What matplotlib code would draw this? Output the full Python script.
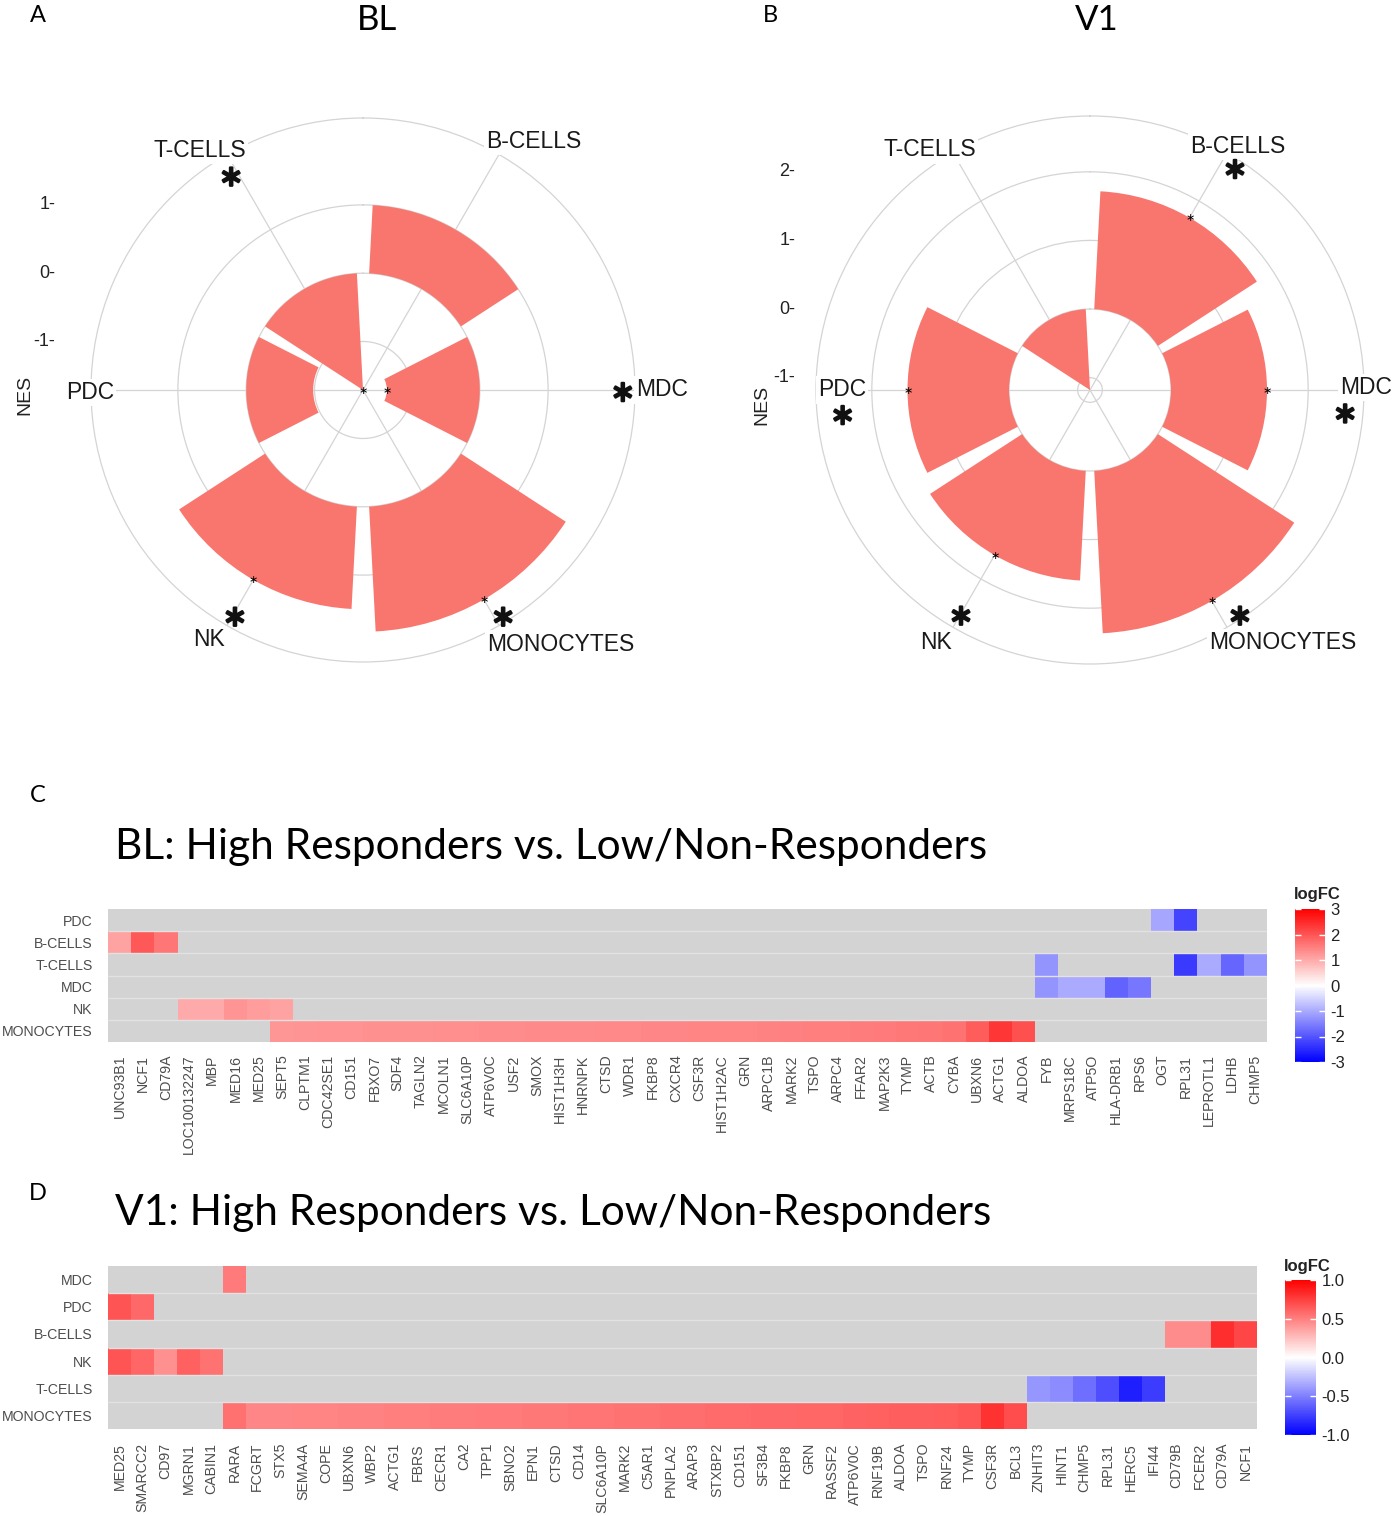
import numpy as np
import matplotlib
matplotlib.use("Agg")
import matplotlib.pyplot as plt
from matplotlib import patheffects
from matplotlib.colors import LinearSegmentedColormap

plt.rcParams['font.family'] = ['Liberation Sans', 'DejaVu Sans']

W, H = 1393, 1516

# ---------------- data: NES per cell type (panels A, B) ----------------
cells = ["B-CELLS", "MDC", "MONOCYTES", "NK", "PDC", "T-CELLS"]
nes_bl = [1.00, -1.36, 1.83, 1.50, -0.98, -1.71]
nes_v1 = [1.72, 1.40, 2.37, 1.60, 1.48, -1.18]
sig_bl = [False, True, True, True, False, True]
sig_v1 = [True, True, True, True, True, False]

# ---------------- data: logFC heatmap BL (panel C) ----------------
bl_genes = ["UNC93B1", "NCF1", "CD79A", "LOC100132247", "MBP", "MED16", "MED25",
            "SEPT5", "CLPTM1", "CDC42SE1", "CD151", "FBXO7", "SDF4", "TAGLN2",
            "MCOLN1", "SLC6A10P", "ATP6V0C", "USF2", "SMOX", "HIST1H3H", "HNRNPK",
            "CTSD", "WDR1", "FKBP8", "CXCR4", "CSF3R", "HIST1H2AC", "GRN", "ARPC1B",
            "MARK2", "TSPO", "ARPC4", "FFAR2", "MAP2K3", "TYMP", "ACTB", "CYBA",
            "UBXN6", "ACTG1", "ALDOA", "FYB", "MRPS18C", "ATP5O", "HLA-DRB1", "RPS6",
            "OGT", "RPL31", "LEPROTL1", "LDHB", "CHMP5"]
bl_rows = ["PDC", "B-CELLS", "T-CELLS", "MDC", "NK", "MONOCYTES"]
bl_pdc = {"OGT": -1.05, "RPL31": -2.2}
bl_bcells = {"UNC93B1": 1.1, "NCF1": 1.95, "CD79A": 1.6}
bl_tcells = {"FYB": -1.25, "RPL31": -2.3, "LEPROTL1": -1.0, "LDHB": -1.8, "CHMP5": -1.25}
bl_mdc = {"FYB": -1.25, "MRPS18C": -1.0, "ATP5O": -1.0, "HLA-DRB1": -1.85, "RPS6": -1.6}
bl_nk = {"LOC100132247": 1.0, "MBP": 1.0, "MED16": 1.25, "MED25": 1.15, "SEPT5": 1.1}
bl_mono = {"SEPT5": 1.22, "CLPTM1": 1.25, "CDC42SE1": 1.27, "CD151": 1.28, "FBXO7": 1.29,
           "SDF4": 1.3, "TAGLN2": 1.31, "MCOLN1": 1.32, "SLC6A10P": 1.33, "ATP6V0C": 1.34,
           "USF2": 1.35, "SMOX": 1.36, "HIST1H3H": 1.37, "HNRNPK": 1.38, "CTSD": 1.39,
           "WDR1": 1.4, "FKBP8": 1.41, "CXCR4": 1.42, "CSF3R": 1.43, "HIST1H2AC": 1.44,
           "GRN": 1.45, "ARPC1B": 1.47, "MARK2": 1.49, "TSPO": 1.5, "ARPC4": 1.52,
           "FFAR2": 1.54, "MAP2K3": 1.56, "TYMP": 1.58, "ACTB": 1.61, "CYBA": 1.66,
           "UBXN6": 1.92, "ACTG1": 2.35, "ALDOA": 2.05}
bl_values = [bl_pdc, bl_bcells, bl_tcells, bl_mdc, bl_nk, bl_mono]

# ---------------- data: logFC heatmap V1 (panel D) ----------------
v1_genes = ["MED25", "SMARCC2", "CD97", "MGRN1", "CABIN1", "RARA", "FCGRT", "STX5",
            "SEMA4A", "COPE", "UBXN6", "WBP2", "ACTG1", "FBRS", "CECR1", "CA2", "TPP1",
            "SBNO2", "EPN1", "CTSD", "CD14", "SLC6A10P", "MARK2", "C5AR1", "PNPLA2",
            "ARAP3", "STXBP2", "CD151", "SF3B4", "FKBP8", "GRN", "RASSF2", "ATP6V0C",
            "RNF19B", "ALDOA", "TSPO", "RNF24", "TYMP", "CSF3R", "BCL3", "ZNHIT3",
            "HINT1", "CHMP5", "RPL31", "HERC5", "IFI44", "CD79B", "FCER2", "CD79A", "NCF1"]
v1_rows = ["MDC", "PDC", "B-CELLS", "NK", "T-CELLS", "MONOCYTES"]
v1_mdc = {"RARA": 0.52}
v1_pdc = {"MED25": 0.67, "SMARCC2": 0.59}
v1_bcells = {"CD79B": 0.45, "FCER2": 0.45, "CD79A": 0.82, "NCF1": 0.72}
v1_nk = {"MED25": 0.67, "SMARCC2": 0.6, "CD97": 0.43, "MGRN1": 0.62, "CABIN1": 0.55}
v1_tcells = {"ZNHIT3": -0.41, "HINT1": -0.45, "CHMP5": -0.57, "RPL31": -0.69,
             "HERC5": -0.88, "IFI44": -0.76}
v1_mono = {"RARA": 0.56, "FCGRT": 0.47, "STX5": 0.47, "SEMA4A": 0.48, "COPE": 0.48,
           "UBXN6": 0.49, "WBP2": 0.49, "ACTG1": 0.5, "FBRS": 0.5, "CECR1": 0.51,
           "CA2": 0.51, "TPP1": 0.52, "SBNO2": 0.52, "EPN1": 0.53, "CTSD": 0.53,
           "CD14": 0.54, "SLC6A10P": 0.54, "MARK2": 0.55, "C5AR1": 0.55, "PNPLA2": 0.57,
           "ARAP3": 0.57, "STXBP2": 0.58, "CD151": 0.58, "SF3B4": 0.59, "FKBP8": 0.59,
           "GRN": 0.6, "RASSF2": 0.6, "ATP6V0C": 0.61, "RNF19B": 0.62, "ALDOA": 0.63,
           "TSPO": 0.63, "RNF24": 0.64, "TYMP": 0.66, "CSF3R": 0.8, "BCL3": 0.7}
v1_values = [v1_mdc, v1_pdc, v1_bcells, v1_nk, v1_tcells, v1_mono]


fig = plt.figure(figsize=(W / 100, H / 100), dpi=100)


def px_box(x0, y0, x1, y1):
    return [x0 / W, 1 - y1 / H, (x1 - x0) / W, (y1 - y0) / H]


def fig_text(x, y, s, **kw):
    fig.text(x / W, 1 - y / H, s, **kw)


STAR = r'$\ast$'
heavy = [patheffects.withStroke(linewidth=1.6, foreground='#111111')]


def polar_panel(rect, nes, sig, rticks, lab_xy, star_xy, nes_xy, tick_x):
    ax = fig.add_axes(rect, projection='polar')
    ax.set_theta_zero_location('N')
    ax.set_theta_direction(-1)
    n = len(cells)
    theta = np.deg2rad((np.arange(n) + 0.5) * 360 / n)
    rmin = min(nes)
    rmax = rmin + 1.125 * (max(nes) - rmin)
    ax.bar(theta, nes, width=0.9 * 2 * np.pi / n, bottom=0, color='#F8766D',
           edgecolor='none', zorder=2)
    ax.set_ylim(rmin, rmax)
    ax.set_rticks(rticks)
    ax.set_yticklabels([])
    ax.set_xticks(theta)
    ax.set_xticklabels([])
    ax.grid(color='#D4D4D4', lw=0.9)
    ax.spines['polar'].set_color('#D4D4D4')
    ax.spines['polar'].set_linewidth(0.9)
    ax.set_axisbelow(True)

    # small stars at the bar ends
    for i in range(n):
        if sig[i]:
            ax.text(theta[i], nes[i], STAR, fontsize=8, ha='center', va='center',
                    zorder=4)
    for name, (x, y) in zip(cells, lab_xy):
        ax.text(x, y, name, transform=ax.transAxes, ha='center', va='center',
                fontsize=16.5, color='#1A1A1A', zorder=5,
                bbox=dict(fc='white', ec='none', pad=1.5))
    # big stars next to the significant labels
    for x, y in star_xy:
        ax.text(x, y, STAR, transform=ax.transAxes, ha='center', va='center',
                fontsize=21, color='#111111', zorder=6, path_effects=heavy)
    for v in rticks:
        y = 0.5 + 0.5 * (v - rmin) / (rmax - rmin)
        ax.text(tick_x, y, f"{v}-", transform=ax.transAxes, ha='right', va='center',
                fontsize=13, color='#222222')
    ax.text(nes_xy[0], nes_xy[1], 'NES', transform=ax.transAxes, rotation=90,
            ha='center', va='center', fontsize=14, color='#222222')
    return ax


polar_panel(px_box(91, 118, 635, 662), nes_bl, sig_bl, [-1, 0, 1],
            [(0.814, 0.956), (1.05, 0.5), (0.864, 0.033), (0.217, 0.042),
             (-0.002, 0.496), (0.200, 0.941)],
            [(0.976, 0.494), (0.756, 0.081), (0.263, 0.081), (0.256, 0.890)],
            (-0.121, 0.491), -0.066)

polar_panel(px_box(816, 116, 1364, 664), nes_v1, sig_v1, [-1, 0, 1, 2],
            [(0.770, 0.945), (1.004, 0.504), (0.852, 0.040), (0.219, 0.040),
             (0.047, 0.5), (0.208, 0.938)],
            [(0.763, 0.901), (0.964, 0.455), (0.772, 0.086), (0.263, 0.086),
             (0.047, 0.452)],
            (-0.099, 0.473), -0.038)

# titles and panel letters
fig_text(377, 20, "BL", fontsize=25, family='Lato', ha='center', va='center')
fig_text(1097, 20, "V1", fontsize=25, family='Lato', ha='center', va='center')
for letter, x, y in [("A", 38, 15), ("B", 770, 15), ("C", 38, 795), ("D", 38, 1193)]:
    fig_text(x, y, letter, fontsize=17, family='Lato', ha='center', va='center')

cmap = LinearSegmentedColormap.from_list('bwr_gg', ['#0000FF', '#FFFFFF', '#FF0000'])


def heat_panel(rect, cbar_rect, genes, rows, values, lim, ticks, ticklabels,
               logfc_xy, label_pad):
    ax = fig.add_axes(rect)
    ax.set_facecolor('#D3D3D3')
    mat = np.full((len(rows), len(genes)), np.nan)
    for r, d in enumerate(values):
        for g, v in d.items():
            mat[r, genes.index(g)] = v
    mesh = ax.pcolormesh(np.arange(len(genes) + 1) - 0.5, np.arange(len(rows) + 1) - 0.5,
                         np.ma.masked_invalid(mat), cmap=cmap, vmin=-lim, vmax=lim,
                         edgecolors='none', antialiased=False)
    ax.set_xlim(-0.5, len(genes) - 0.5)
    ax.set_ylim(len(rows) - 0.5, -0.5)
    ax.hlines(np.arange(0.5, len(rows) - 0.5), -0.5, len(genes) - 0.5,
              color='#E2E2E2', lw=1, zorder=3)
    ax.set_xticks(range(len(genes)))
    ax.set_xticklabels(genes, rotation=90, fontsize=10.2, color='#4D4D4D')
    ax.set_yticks(range(len(rows)))
    ax.set_yticklabels(rows, fontsize=10.2, color='#4D4D4D')
    ax.tick_params(axis='x', length=0, pad=label_pad[0])
    ax.tick_params(axis='y', length=0, pad=label_pad[1])
    for sp in ax.spines.values():
        sp.set_visible(False)

    cax = fig.add_axes(cbar_rect)
    cb = fig.colorbar(mesh, cax=cax)
    cb.outline.set_visible(False)
    cb.set_ticks(ticks)
    cb.set_ticklabels(ticklabels)
    cax.tick_params(length=0, labelsize=12, pad=4, labelcolor='#222222')
    tr = cax.get_yaxis_transform()
    cax.hlines(ticks, 0, 0.2, transform=tr, color='white', lw=1)
    cax.hlines(ticks, 0.8, 1, transform=tr, color='white', lw=1)
    fig_text(logfc_xy[0], logfc_xy[1], "logFC", fontsize=12, fontweight='bold',
             ha='left', va='center', color='#222222')
    return ax


heat_panel(px_box(108, 909, 1267, 1042), px_box(1295, 909, 1325, 1062),
           bl_genes, bl_rows, bl_values, 3, [3, 2, 1, 0, -1, -2, -3],
           ["3", "2", "1", "0", "-1", "-2", "-3"], (1294, 895), (9, 11))
fig_text(115, 847, "BL: High Responders vs. Low/Non-Responders", fontsize=30.5,
         family='Lato', ha='left', va='center')

heat_panel(px_box(108, 1266, 1257, 1429), px_box(1285, 1280, 1316, 1435),
           v1_genes, v1_rows, v1_values, 1, [1, 0.5, 0, -0.5, -1],
           ["1.0", "0.5", "0.0", "-0.5", "-1.0"], (1284, 1266), (10, 11))
fig_text(115, 1213, "V1: High Responders vs. Low/Non-Responders", fontsize=30.5,
         family='Lato', ha='left', va='center')

fig.savefig("out.png", dpi=100)
